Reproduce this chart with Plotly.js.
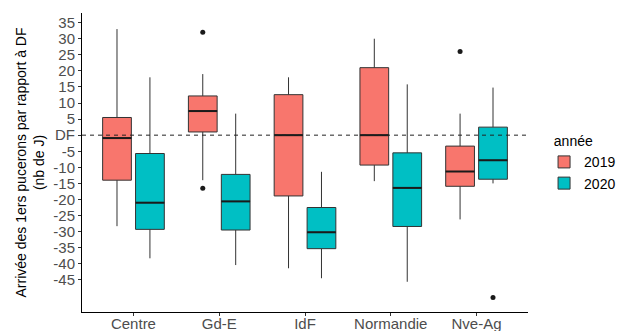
<!DOCTYPE html>
<html>
<head>
<meta charset="utf-8">
<script src="https://cdn.plot.ly/plotly-3.0.1.min.js"></script>
<style>html,body{margin:0;padding:0;background:#fff;}#chart{width:617px;height:331px;}</style>
</head>
<body>
<div id="chart"></div>
<script>
// Categories
const regions = ["Centre", "Gd-E", "IdF", "Normandie", "Nve-Ag"];
const years = ["2019", "2020"];

// 2019 box stats (days relative to DF)
const upper2019 = [33, 19, 18, 30, 6.7];
const q3_2019   = [5.5, 12.2, 12.6, 21, -3.4];
const med2019   = [-0.9, 7.5, 0, 0, -11.3];
const q1_2019   = [-14, 1, -18.9, -9.3, -15.9];
const lower2019 = [-28.3, -14, -41.4, -14.3, -26.2];
const outRegion2019 = ["Gd-E", "Gd-E", "Nve-Ag"];
const outVal2019    = [32, -16.5, 26];

// 2020 box stats
const upper2020 = [18, 6.7, -11.4, 15.8, 14.8];
const q3_2020   = [-5.7, -12.2, -22.5, -5.5, 2.5];
const med2020   = [-21, -20.6, -30.2, -16.4, -7.8];
const q1_2020   = [-29.3, -29.5, -35.3, -28.4, -13.7];
const lower2020 = [-38.3, -40.4, -44.5, -45.6, -15];
const outRegion2020 = ["Nve-Ag"];
const outVal2020    = [-50.5];

// Y tick labels
const yTickVals = [35, 30, 25, 20, 15, 10, 5, 0, -5, -10, -15, -20, -25, -30, -35, -40, -45];
const yTickText = ["35", "30", "25", "20", "15", "10", "5", "DF", "-5", "-10", "-15", "-20", "-25", "-30", "-35", "-40", "-45"];

const colors = {"2019": "#F8766D", "2020": "#00BFC4"};
const dodge = 0.192;
const boxW = 0.335;
const offsets = {"2019": -dodge, "2020": dodge};
const idx = r => regions.indexOf(r);

const stats = {
  "2019": {up: upper2019, q3: q3_2019, med: med2019, q1: q1_2019, lo: lower2019, outR: outRegion2019, outV: outVal2019},
  "2020": {up: upper2020, q3: q3_2020, med: med2020, q1: q1_2020, lo: lower2020, outR: outRegion2020, outV: outVal2020}
};

const traces = [];
years.forEach(yr => {
  const s = stats[yr];
  const xs = regions.map((r, i) => i + offsets[yr]);
  traces.push({
    type: "box", name: yr, x: xs,
    q1: s.q1, median: s.med, q3: s.q3, lowerfence: s.lo, upperfence: s.up,
    width: boxW, whiskerwidth: 0, boxpoints: false,
    fillcolor: colors[yr], line: {color: "#333333", width: 1},
    hoverinfo: "skip"
  });
});
years.forEach(yr => {
  const s = stats[yr];
  const mx = [], my = [];
  regions.forEach((r, i) => {
    const c = i + offsets[yr];
    mx.push(c - boxW / 2, c + boxW / 2, null);
    my.push(s.med[i], s.med[i], null);
  });
  traces.push({type: "scatter", mode: "lines", x: mx, y: my, showlegend: false,
    line: {color: "#1a1a1a", width: 2}, hoverinfo: "skip"});
  traces.push({type: "scatter", mode: "markers",
    x: s.outR.map(r => idx(r) + offsets[yr]), y: s.outV, showlegend: false,
    marker: {color: "#1a1a1a", size: 5}, hoverinfo: "skip"});
});

const layout = {
  width: 617, height: 331,
  margin: {l: 82, r: 89, t: 13, b: 19, autoexpand: false},
  paper_bgcolor: "#fff", plot_bgcolor: "#fff",
  font: {family: "Liberation Sans, Arial, sans-serif", color: "#000"},
  boxmode: "overlay",
  xaxis: {
    range: [-0.6, 4.6], tickvals: regions.map((r, i) => i), ticktext: regions,
    showgrid: false, zeroline: false, showline: true, linecolor: "#000", linewidth: 1,
    ticks: "outside", ticklen: 3, tickcolor: "#333", automargin: false,
    tickfont: {size: 15, color: "#4d4d4d"}, ticklabelstandoff: -5
  },
  yaxis: {
    range: [-55, 38], tickvals: yTickVals, ticktext: yTickText,
    showgrid: false, zeroline: false, showline: true, linecolor: "#000", linewidth: 1,
    ticks: "outside", ticklen: 3, tickcolor: "#333", automargin: false,
    tickfont: {size: 15, color: "#4d4d4d"},
    title: {text: "Arrivée des 1ers pucerons par rapport à DF<br>(nb de J)", font: {size: 14, color: "#000"}, standoff: 5}
  },
  shapes: [{type: "line", xref: "paper", x0: 0, x1: 1, yref: "y", y0: 0, y1: 0,
    layer: "above", line: {color: "#222", width: 1, dash: "4px,4px"}}],
  legend: {
    x: 1.036, y: 0.615, xanchor: "left", yanchor: "top",
    title: {text: "\u00a0\u00a0année", side: "top", font: {size: 14, color: "#000"}},
    font: {size: 14, color: "#000"}, tracegroupgap: 0, itemwidth: 30
  },
  showlegend: true
};

Plotly.newPlot("chart", traces, layout, {displayModeBar: false, staticPlot: true});
</script>
</body>
</html>
